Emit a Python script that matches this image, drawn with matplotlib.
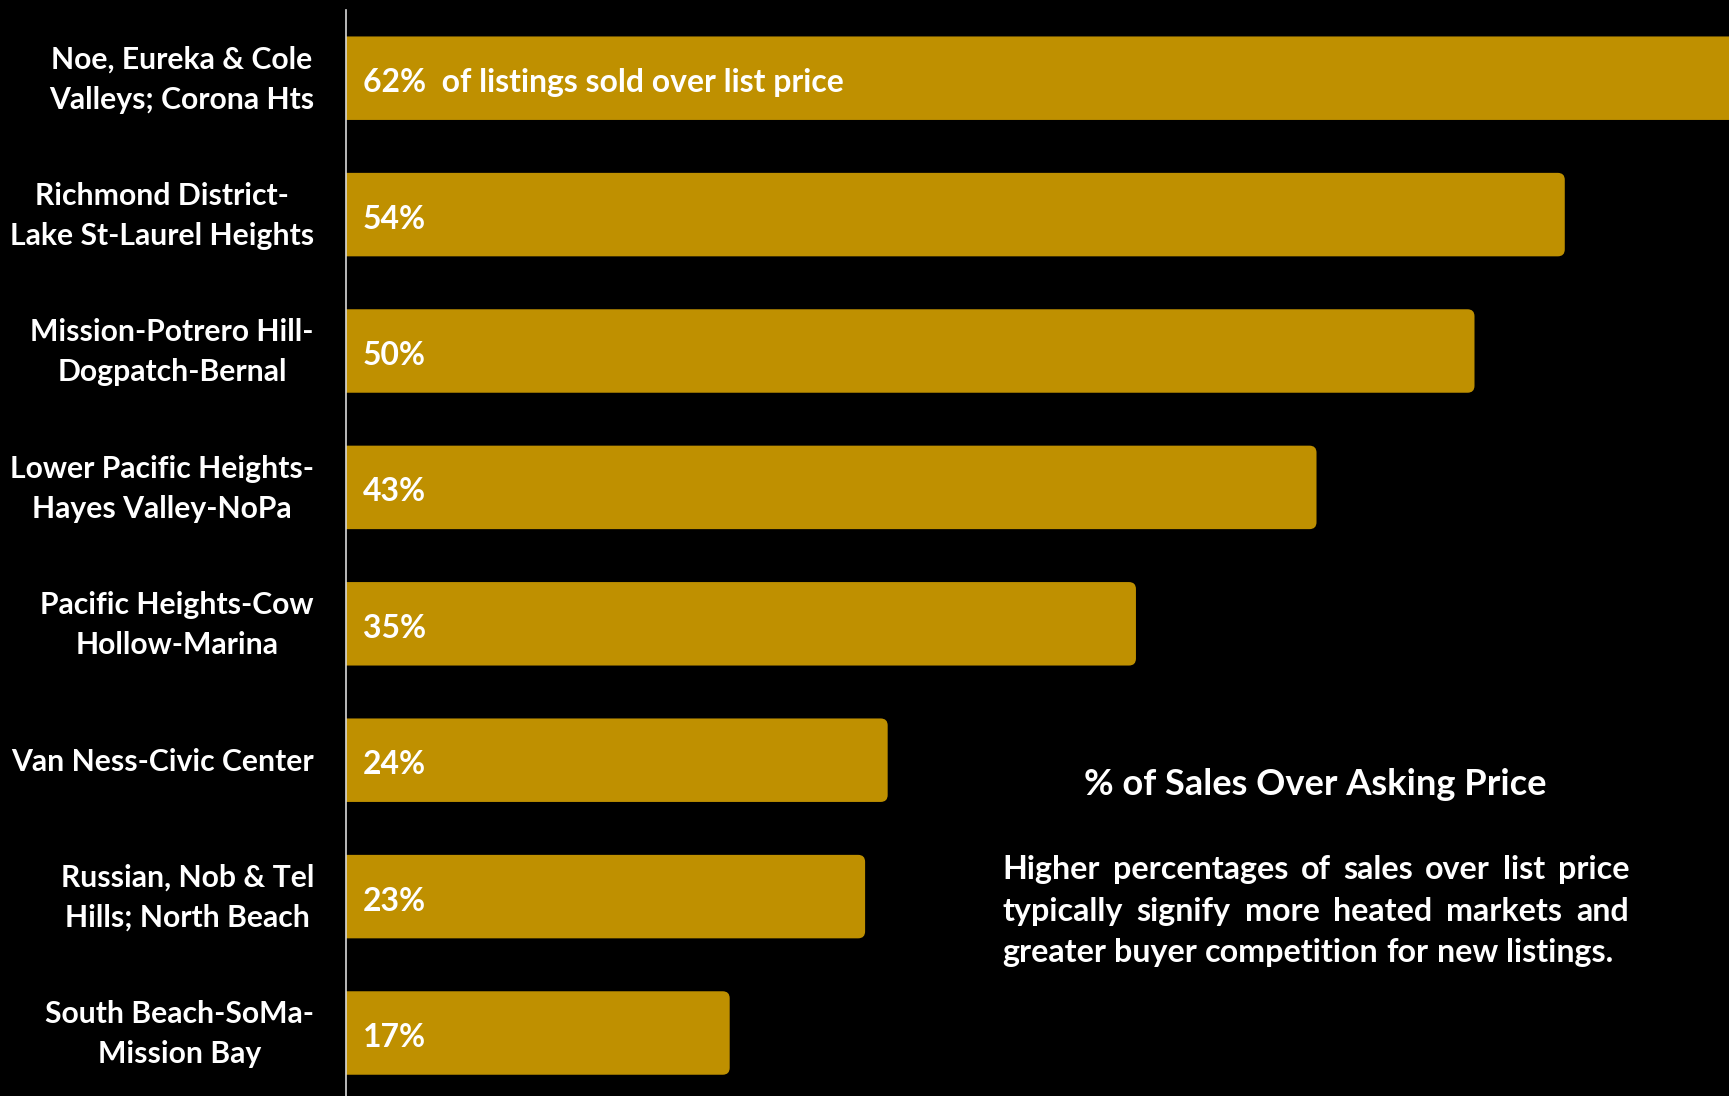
import matplotlib
matplotlib.use("Agg")
import matplotlib.pyplot as plt
from matplotlib.patches import FancyBboxPatch

# ---------------- data ----------------
categories = [
    "Noe, Eureka & Cole\nValleys; Corona Hts",
    "Richmond District-\nLake St-Laurel Heights",
    "Mission-Potrero Hill-\nDogpatch-Bernal",
    "Lower Pacific Heights-\nHayes Valley-NoPa",
    "Pacific Heights-Cow\nHollow-Marina",
    "Van Ness-Civic Center",
    "Russian, Nob & Tel\nHills; North Beach",
    "South Beach-SoMa-\nMission Bay",
]
values = [62, 54, 50, 43, 35, 24, 23, 17]
value_labels = ["62%  of listings sold over list price", "54%", "50%", "43%",
                "35%", "24%", "23%", "17%"]
title = "% of Sales Over Asking Price"
paragraph_lines = [
    "Higher percentages of sales over list price",
    "typically signify more heated markets and",
    "greater buyer competition for new listings.",
]

# ---------------- style ----------------
W, H, DPI = 1729, 1096, 100
GOLD = "#BF9000"
FONT = ["Lato", "DejaVu Sans"]
plt.rcParams["font.family"] = FONT

fig = plt.figure(figsize=(W / DPI, H / DPI), dpi=DPI, facecolor="black")
renderer = fig.canvas.get_renderer()

def fit_size(s, target_px, base=20):
    t = fig.text(0, 0, s, fontsize=base, fontweight="bold")
    w = t.get_window_extent(renderer).width
    t.remove()
    return base * target_px / w

label_fs = fit_size("Lake St-Laurel Heights", 304)
value_fs = fit_size(value_labels[0], 481)
title_fs = fit_size(title, 463)
para_fs = fit_size(paragraph_lines[2], 612)

axis_left_px = 346
px_per_unit = 22.57
pitch_px = 136.4
ax = fig.add_axes([axis_left_px / W, 0, 1 - axis_left_px / W, 1 - 10 / H])
ax.set_facecolor("black")
ax.set_xlim(0, (W - axis_left_px) / px_per_unit)
ylim_top = -0.5
ax.set_ylim(ylim_top + (H - 10) / pitch_px, ylim_top)

ypos = list(range(len(categories)))
bars = ax.barh(ypos, values, height=0.612, color=GOLD)

# rounded right corners
r_px = 7
r_data = r_px / px_per_unit
aspect = px_per_unit / pitch_px
for rect in bars:
    x, y, w, h = rect.get_x(), rect.get_y(), rect.get_width(), rect.get_height()
    rect.set_visible(False)
    p = FancyBboxPatch((x - r_data, y), w + r_data, h,
                       boxstyle=f"round,pad=0,rounding_size={r_data}",
                       mutation_aspect=aspect, fc=GOLD, ec="none")
    ax.add_patch(p)

for s in ["top", "right", "bottom"]:
    ax.spines[s].set_visible(False)
ax.spines["left"].set_color("#D9D9D9")
ax.spines["left"].set_linewidth(1.2)
ax.spines["left"].set_zorder(5)
ax.set_xticks([])
ax.set_yticks([])

for i, (cat, lab) in enumerate(zip(categories, value_labels)):
    ax.text(-32 / px_per_unit, i + 0.01, cat, ha="right", va="center",
            multialignment="center", color="white", fontsize=label_fs,
            fontweight="bold", linespacing=1.52, clip_on=False)
    ax.annotate(lab, xy=(0, i), xytext=(17 * 72 / DPI, -3.3),
                textcoords="offset points", ha="left", va="center",
                color="white", fontsize=value_fs, fontweight="bold")

fig.text(1315.5 / W, 1 - 795 / H, title, ha="center", va="baseline",
         color="white", fontsize=title_fs, fontweight="bold")

# justified paragraph
left_px, right_px = 1002.5, 1629
baselines = [879, 921, 962]
for li, line in enumerate(paragraph_lines):
    words = line.split()
    texts = [fig.text(0, 0, wd, fontsize=para_fs, fontweight="bold",
                      color="white", va="baseline", ha="left") for wd in words]
    widths = [t.get_window_extent(renderer).width for t in texts]
    if li < len(paragraph_lines) - 1:
        gap = (right_px - left_px - sum(widths)) / (len(words) - 1)
    else:
        full = fig.text(0, 0, line, fontsize=para_fs, fontweight="bold")
        gap = (full.get_window_extent(renderer).width - sum(widths)) / (len(words) - 1)
        full.remove()
    x = left_px
    for t, w in zip(texts, widths):
        t.set_position((x / W, 1 - baselines[li] / H))
        x += w + gap

fig.savefig("out.png", dpi=DPI, facecolor="black")
